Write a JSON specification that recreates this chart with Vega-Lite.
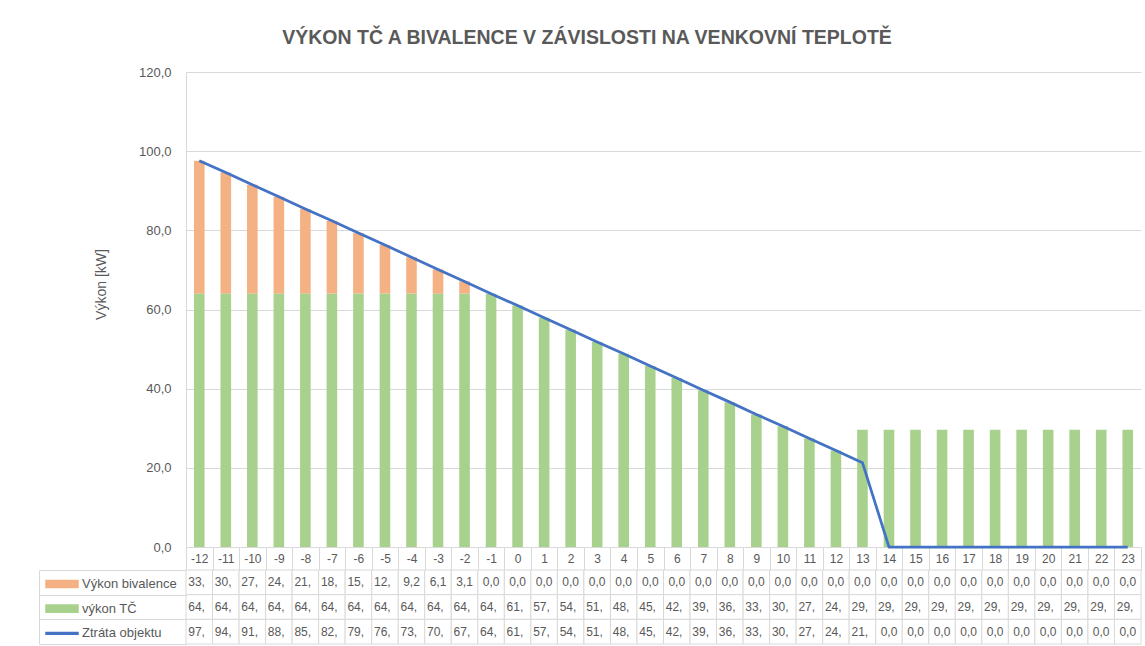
{
  "$schema": "https://vega.github.io/schema/vega-lite/v6.json",
  "padding": {"left": 38, "top": 27, "right": 5, "bottom": 2},
  "background": "white",
  "config": {"font": "Liberation Sans", "view": {"stroke": null}},
  "title": {"text": "VÝKON TČ A BIVALENCE V ZÁVISLOSTI NA VENKOVNÍ TEPLOTĚ", "font": "Liberation Sans", "fontSize": 19.5, "fontWeight": "bold", "color": "#595959", "anchor": "middle", "frame": "bounds", "offset": 18, "dx": -3},
  "data": {"values": [
    {"t": -12, "s": "Výkon bivalence", "v": 33.6}, {"t": -11, "s": "Výkon bivalence", "v": 30.6}, {"t": -10, "s": "Výkon bivalence", "v": 27.5}, {"t": -9, "s": "Výkon bivalence", "v": 24.5}, {"t": -8, "s": "Výkon bivalence", "v": 21.4}, {"t": -7, "s": "Výkon bivalence", "v": 18.4}, {"t": -6, "s": "Výkon bivalence", "v": 15.3}, {"t": -5, "s": "Výkon bivalence", "v": 12.3}, {"t": -4, "s": "Výkon bivalence", "v": 9.2}, {"t": -3, "s": "Výkon bivalence", "v": 6.1}, {"t": -2, "s": "Výkon bivalence", "v": 3.1}, {"t": -1, "s": "Výkon bivalence", "v": 0},
    {"t": 0, "s": "Výkon bivalence", "v": 0}, {"t": 1, "s": "Výkon bivalence", "v": 0}, {"t": 2, "s": "Výkon bivalence", "v": 0}, {"t": 3, "s": "Výkon bivalence", "v": 0}, {"t": 4, "s": "Výkon bivalence", "v": 0}, {"t": 5, "s": "Výkon bivalence", "v": 0}, {"t": 6, "s": "Výkon bivalence", "v": 0}, {"t": 7, "s": "Výkon bivalence", "v": 0}, {"t": 8, "s": "Výkon bivalence", "v": 0}, {"t": 9, "s": "Výkon bivalence", "v": 0}, {"t": 10, "s": "Výkon bivalence", "v": 0}, {"t": 11, "s": "Výkon bivalence", "v": 0},
    {"t": 12, "s": "Výkon bivalence", "v": 0}, {"t": 13, "s": "Výkon bivalence", "v": 0}, {"t": 14, "s": "Výkon bivalence", "v": 0}, {"t": 15, "s": "Výkon bivalence", "v": 0}, {"t": 16, "s": "Výkon bivalence", "v": 0}, {"t": 17, "s": "Výkon bivalence", "v": 0}, {"t": 18, "s": "Výkon bivalence", "v": 0}, {"t": 19, "s": "Výkon bivalence", "v": 0}, {"t": 20, "s": "Výkon bivalence", "v": 0}, {"t": 21, "s": "Výkon bivalence", "v": 0}, {"t": 22, "s": "Výkon bivalence", "v": 0}, {"t": 23, "s": "Výkon bivalence", "v": 0},
    {"t": -12, "s": "výkon TČ", "v": 64.0}, {"t": -11, "s": "výkon TČ", "v": 64.0}, {"t": -10, "s": "výkon TČ", "v": 64.0}, {"t": -9, "s": "výkon TČ", "v": 64.0}, {"t": -8, "s": "výkon TČ", "v": 64.0}, {"t": -7, "s": "výkon TČ", "v": 64.0}, {"t": -6, "s": "výkon TČ", "v": 64.0}, {"t": -5, "s": "výkon TČ", "v": 64.0}, {"t": -4, "s": "výkon TČ", "v": 64.0}, {"t": -3, "s": "výkon TČ", "v": 64.0}, {"t": -2, "s": "výkon TČ", "v": 64.0}, {"t": -1, "s": "výkon TČ", "v": 64.0},
    {"t": 0, "s": "výkon TČ", "v": 61.0}, {"t": 1, "s": "výkon TČ", "v": 57.9}, {"t": 2, "s": "výkon TČ", "v": 54.9}, {"t": 3, "s": "výkon TČ", "v": 51.8}, {"t": 4, "s": "výkon TČ", "v": 48.8}, {"t": 5, "s": "výkon TČ", "v": 45.7}, {"t": 6, "s": "výkon TČ", "v": 42.7}, {"t": 7, "s": "výkon TČ", "v": 39.6}, {"t": 8, "s": "výkon TČ", "v": 36.6}, {"t": 9, "s": "výkon TČ", "v": 33.5}, {"t": 10, "s": "výkon TČ", "v": 30.5}, {"t": 11, "s": "výkon TČ", "v": 27.4},
    {"t": 12, "s": "výkon TČ", "v": 24.4}, {"t": 13, "s": "výkon TČ", "v": 29.6}, {"t": 14, "s": "výkon TČ", "v": 29.6}, {"t": 15, "s": "výkon TČ", "v": 29.6}, {"t": 16, "s": "výkon TČ", "v": 29.6}, {"t": 17, "s": "výkon TČ", "v": 29.6}, {"t": 18, "s": "výkon TČ", "v": 29.6}, {"t": 19, "s": "výkon TČ", "v": 29.6}, {"t": 20, "s": "výkon TČ", "v": 29.6}, {"t": 21, "s": "výkon TČ", "v": 29.6}, {"t": 22, "s": "výkon TČ", "v": 29.6}, {"t": 23, "s": "výkon TČ", "v": 29.6},
    {"t": -12, "s": "Ztráta objektu", "v": 97.6}, {"t": -11, "s": "Ztráta objektu", "v": 94.6}, {"t": -10, "s": "Ztráta objektu", "v": 91.5}, {"t": -9, "s": "Ztráta objektu", "v": 88.5}, {"t": -8, "s": "Ztráta objektu", "v": 85.4}, {"t": -7, "s": "Ztráta objektu", "v": 82.4}, {"t": -6, "s": "Ztráta objektu", "v": 79.3}, {"t": -5, "s": "Ztráta objektu", "v": 76.3}, {"t": -4, "s": "Ztráta objektu", "v": 73.2}, {"t": -3, "s": "Ztráta objektu", "v": 70.1}, {"t": -2, "s": "Ztráta objektu", "v": 67.1}, {"t": -1, "s": "Ztráta objektu", "v": 64.0},
    {"t": 0, "s": "Ztráta objektu", "v": 61.0}, {"t": 1, "s": "Ztráta objektu", "v": 57.9}, {"t": 2, "s": "Ztráta objektu", "v": 54.9}, {"t": 3, "s": "Ztráta objektu", "v": 51.8}, {"t": 4, "s": "Ztráta objektu", "v": 48.8}, {"t": 5, "s": "Ztráta objektu", "v": 45.7}, {"t": 6, "s": "Ztráta objektu", "v": 42.7}, {"t": 7, "s": "Ztráta objektu", "v": 39.6}, {"t": 8, "s": "Ztráta objektu", "v": 36.6}, {"t": 9, "s": "Ztráta objektu", "v": 33.5}, {"t": 10, "s": "Ztráta objektu", "v": 30.5}, {"t": 11, "s": "Ztráta objektu", "v": 27.4},
    {"t": 12, "s": "Ztráta objektu", "v": 24.4}, {"t": 13, "s": "Ztráta objektu", "v": 21.3}, {"t": 14, "s": "Ztráta objektu", "v": 0}, {"t": 15, "s": "Ztráta objektu", "v": 0}, {"t": 16, "s": "Ztráta objektu", "v": 0}, {"t": 17, "s": "Ztráta objektu", "v": 0}, {"t": 18, "s": "Ztráta objektu", "v": 0}, {"t": 19, "s": "Ztráta objektu", "v": 0}, {"t": 20, "s": "Ztráta objektu", "v": 0}, {"t": 21, "s": "Ztráta objektu", "v": 0}, {"t": 22, "s": "Ztráta objektu", "v": 0}, {"t": 23, "s": "Ztráta objektu", "v": 0}
  ]},
  "spacing": 23,
  "bounds": "flush",
  "vconcat": [
    {
      "width": 955,
      "height": 475,
      "layer": [
        {
          "transform": [{"filter": "datum.s !== 'Ztráta objektu'"}],
          "mark": {"type": "bar", "width": {"band": 0.4}},
          "encoding": {
            "x": {"field": "t", "type": "ordinal", "scale": {"type": "band", "paddingInner": 0, "paddingOuter": 0},
              "axis": {"title": null, "labelAngle": 0, "domainColor": "#d9d9d9", "ticks": true, "tickBand": "extent", "tickSize": 23, "tickColor": "#d9d9d9", "labelPadding": -12, "labelBaseline": "middle", "labelFontSize": 12, "labelColor": "#595959", "labelFlush": false, "labelOverlap": false, "grid": false}},
            "y": {"field": "v", "type": "quantitative", "stack": "zero", "scale": {"domain": [0, 120], "nice": false},
              "axis": {"values": [0, 20, 40, 60, 80, 100, 120], "labelExpr": "replace(format(datum.value, '.1f'), '.', ',')", "grid": true, "gridColor": "#d9d9d9", "domain": true, "domainColor": "#d9d9d9", "ticks": false, "labelPadding": 15, "labelFontSize": 13, "labelColor": "#595959", "title": "Výkon [kW]", "titleFontSize": 14, "titleFontWeight": "normal", "titleColor": "#595959", "titlePadding": 30, "titleY": 212}},
            "color": {"field": "s", "type": "nominal",
              "scale": {"domain": ["Výkon bivalence", "výkon TČ", "Ztráta objektu"], "range": ["#F4B183", "#A9D18E", "#4472C4"]},
              "legend": {"orient": "none", "legendX": -133, "legendY": 503, "title": null, "padding": 0, "symbolType": "M-2,-0.45H2V0.45H-2Z", "symbolSize": 256, "labelFontSize": 13, "labelColor": "#595959", "labelOffset": 11, "rowPadding": 8.67,
                "encode": {"symbols": {"update": {"shape": {"signal": "datum.value === 'Ztráta objektu' ? 'M-2,-0.12H2V0.12H-2Z' : 'M-2,-0.45H2V0.45H-2Z'"}, "opacity": {"value": 1}}}}}},
            "order": {"field": "s", "type": "ordinal", "sort": "descending"}
          }
        },
        {
          "transform": [{"filter": "datum.s === 'Ztráta objektu'"}],
          "mark": {"type": "line", "strokeWidth": 2.75, "strokeJoin": "round"},
          "encoding": {
            "x": {"field": "t", "type": "ordinal", "bandPosition": 0.5},
            "y": {"field": "v", "type": "quantitative"},
            "color": {"field": "s", "type": "nominal"}
          }
        }
      ]
    },
    {
      "width": 955,
      "height": 74,
      "layer": [
        {
          "mark": {"type": "rect", "fill": "white", "stroke": "#d9d9d9", "strokeWidth": 1},
          "encoding": {
            "x": {"field": "t", "type": "ordinal", "scale": {"type": "band", "paddingInner": 0, "paddingOuter": 0}, "axis": null},
            "y": {"field": "s", "type": "nominal", "scale": {"domain": ["Výkon bivalence", "výkon TČ", "Ztráta objektu"], "paddingInner": 0, "paddingOuter": 0},
              "axis": {"orient": "left", "offset": 147, "domain": true, "domainColor": "#d9d9d9", "ticks": true, "tickBand": "extent", "tickSize": -147, "tickColor": "#d9d9d9", "labels": false, "title": null, "grid": false}}
          }
        },
        {
          "transform": [{"filter": "datum.v >= 10"}, {"calculate": "substring(replace(format(datum.v, '.1f'), '.', ','), 0, 3)", "as": "lbl"}],
          "mark": {"type": "text", "align": "left", "dx": -11, "fontSize": 12, "color": "#595959"},
          "encoding": {"x": {"field": "t", "type": "ordinal"}, "y": {"field": "s", "type": "nominal"}, "text": {"field": "lbl"}}
        },
        {
          "transform": [{"filter": "datum.v < 10"}, {"calculate": "substring(replace(format(datum.v, '.1f'), '.', ','), 0, 3)", "as": "lbl"}],
          "mark": {"type": "text", "align": "center", "fontSize": 12, "color": "#595959"},
          "encoding": {"x": {"field": "t", "type": "ordinal"}, "y": {"field": "s", "type": "nominal"}, "text": {"field": "lbl"}}
        }
      ]
    }
  ]
}
